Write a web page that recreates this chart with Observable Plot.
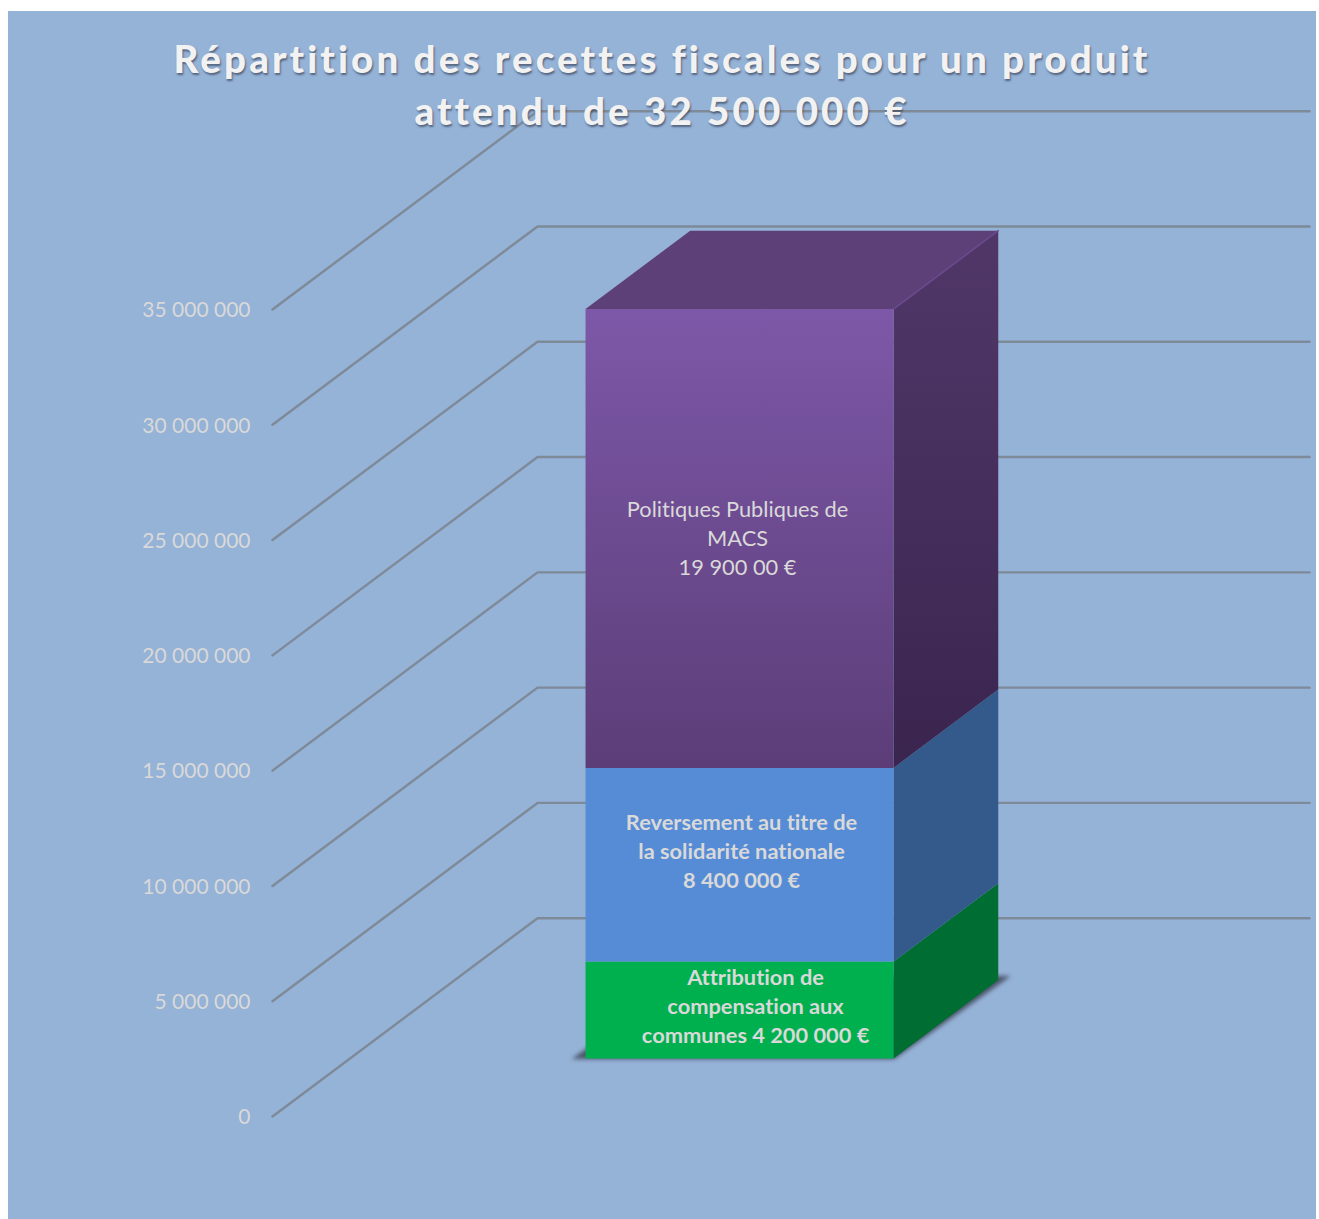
<!DOCTYPE html>
<html lang="fr">
<head>
<meta charset="utf-8">
<script src="https://cdn.jsdelivr.net/npm/d3@7"></script>
<script src="https://cdn.jsdelivr.net/npm/@observablehq/plot@0.6"></script>
<style>
  html, body { margin: 0; padding: 0; background: #fff; }
  #wrap { position: absolute; left: 8px; top: 11px; width: 1308px; height: 1208px; }
  #title { position: absolute; left: 0; top: 21px; width: 100%; text-align: center; z-index: 2;
    font: 900 38.5px/52px Lato, sans-serif; letter-spacing: 3.1px; color: #F2F2F2;
    text-shadow: 1px 2px 2px rgba(50,60,80,.65); }
  svg { display: block; }
  svg text { font-variant-ligatures: none; }
</style>
</head>
<body>
<div id="wrap"><div id="title">Répartition des recettes fiscales pour un produit<br>attendu de 32 500 000 €</div></div>
<script>
const tickValues = [0, 5000000, 10000000, 15000000, 20000000, 25000000, 30000000, 35000000];
const segmentNames = ["Attribution de compensation aux communes", "Reversement au titre de la solidarité nationale", "Politiques Publiques de MACS"];
const segmentValues = [4200000, 8400000, 19900000];
const segmentLabels = [
  "Attribution de\ncompensation aux\ncommunes 4 200 000 €",
  "Reversement au titre de\nla solidarité nationale\n8 400 000 €",
  "Politiques Publiques de\nMACS\n19 900 00 €"
];
const frontColors = ["#00B04F", "#568CD6", "url(#purpleFront)"];
const sideColors = ["#006E32", "#335A8A", "url(#purpleSide)"];

// Oblique projection: "across" and "depth" are 0–1 floor coordinates.
const DEPTH_X = 0.3433, DEPTH_Y = 8600000;
const pt = (a, d, v) => ({x: a + d * DEPTH_X, y: v + d * DEPTH_Y});
const A0 = 0.3049, A1 = 0.7039, D0 = 0.293, D1 = 0.688;

const tops = d3.cumsum(segmentValues);
const bases = [0, ...tops.slice(0, -1)];
const total = tops[tops.length - 1];

const fmt = d3.formatLocale({decimal: ",", thousands: " ", grouping: [3], currency: ["", "€"]}).format(",");

const defs = () => {
  const ns = "http://www.w3.org/2000/svg";
  const el = document.createElementNS(ns, "defs");
  el.innerHTML = `
    <linearGradient id="purpleFront" x1="0" y1="0" x2="0" y2="1">
      <stop offset="0" stop-color="#7D58A8"/><stop offset="1" stop-color="#5C3D78"/>
    </linearGradient>
    <linearGradient id="purpleSide" x1="0" y1="0" x2="0" y2="1">
      <stop offset="0" stop-color="#503768"/><stop offset="1" stop-color="#3A254F"/>
    </linearGradient>`;
  return el;
};

const soft = "blur(0.5px)";
const gridRows = tickValues.flatMap(v => [
  {...pt(0, 0, v), tick: v}, {...pt(0, 1, v), tick: v}, {...pt(1, 1, v), tick: v}
]);
const face = (corners, fill, extra = {}) =>
  Plot.line(corners, {x: "x", y: "y", fill, stroke: "none", imageFilter: soft, ...extra});

const marks = [
  defs,
  Plot.line(gridRows, {x: "x", y: "y", z: "tick", stroke: "#7F8A99", strokeWidth: 2.4, imageFilter: soft}),
  // floor shadow
  face([pt(0.288, 0.29, 0), pt(0.706, 0.29, 0), pt(0.713, 0.708, 0), pt(0.30, 0.708, 0)], "#4A5468", {imageFilter: "blur(2px)"}),
  // side faces
  ...segmentValues.map((_, i) => face([pt(A1, D0, bases[i]), pt(A1, D1, bases[i]), pt(A1, D1, tops[i]), pt(A1, D0, tops[i])], sideColors[i])),
  // top face
  face([pt(A0, D0, total), pt(A1, D0, total), pt(A1, D1, total), pt(A0, D1, total)], "#5E4079"),
  Plot.line([pt(A1, D0, total), pt(A1, D1, total)], {x: "x", y: "y", stroke: "#6A4A90", strokeWidth: 1.5, imageFilter: soft}),
  // front faces
  ...segmentValues.map((_, i) => face([pt(A0, D0, bases[i]), pt(A1, D0, bases[i]), pt(A1, D0, tops[i]), pt(A0, D0, tops[i])], frontColors[i])),
  // labels
  ...segmentLabels.map((label, i) => {
    const c = pt((A0 + A1) / 2, D0, (bases[i] + tops[i]) / 2);
    return Plot.text([{...c, label}], {
      x: "x", y: "y", text: "label", fill: "#D9D9D9", textAnchor: "middle", lineAnchor: "middle",
      fontFamily: "Lato, sans-serif", fontSize: 21.8, lineHeight: 1.335,
      fontWeight: i === 2 ? 400 : 700,
      dx: [16, 2, -2][i], dy: [-5, -15, -2][i]
    });
  }),
  Plot.axisY({ticks: tickValues, tickFormat: fmt, tickSize: 0, tickPadding: 22, label: null, dy: 1,
    fontSize: 21, fontFamily: "Lato, sans-serif", fill: "#D9D9D9"})
];

const chart = Plot.plot({
  width: 1308, height: 1208,
  marginLeft: 264, marginRight: 0, marginTop: 0, marginBottom: 0,
  style: {background: "#95B2D7", overflow: "hidden"},
  x: {domain: [0, 1], range: [264, 1036], axis: null},
  y: {domain: [0, 35000000], range: [1105, 298], label: null},
  marks
});
document.getElementById("wrap").appendChild(chart);
</script>
</body>
</html>
